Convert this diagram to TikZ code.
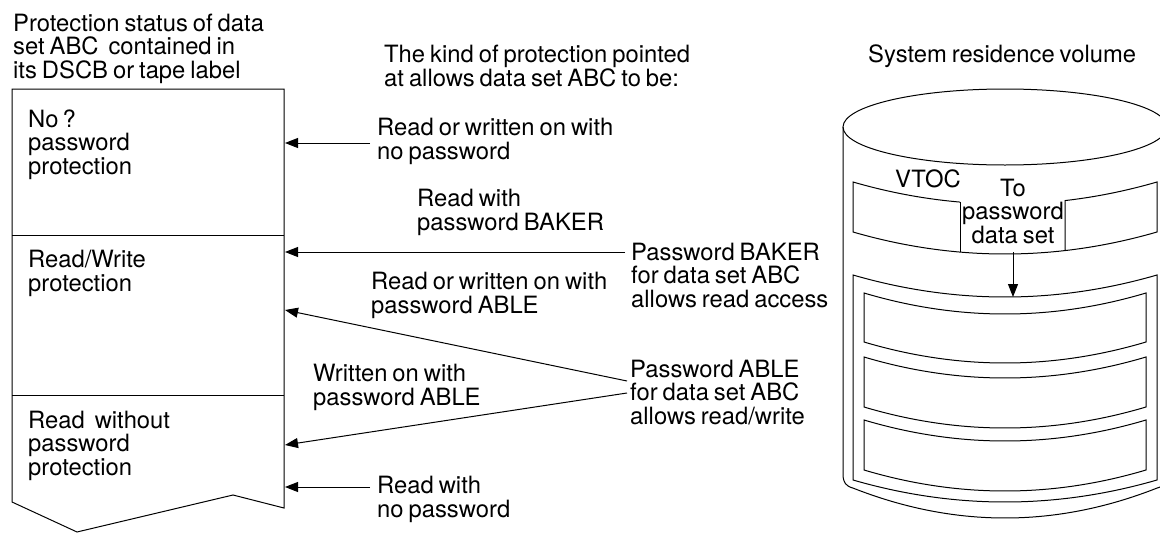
\documentclass[tikz,border=0pt]{standalone}
\usepackage{fontspec}
\setmainfont{TeX Gyre Heros}[WordSpace=0.75]
\usetikzlibrary{arrows.meta}
\begin{document}
\begin{tikzpicture}[x=1pt,y=-1pt,
  txt/.style={inner sep=0pt, anchor=base west, align=left, font=\fontsize{23.8}{23.5}\selectfont},
  ln/.style={line width=1pt},
  arr/.style={ln, -{Triangle[length=13pt,width=10pt]}},
]
\useasboundingbox (0,0) rectangle (1160,533);
\clip (0,0) rectangle (1160,533);

% ---------- left status box ----------
\draw[ln] (12,89) -- (284,89) -- (284,508) -- (233,495) -- (77,532) -- (12,502) -- cycle;
\draw[ln] (12,235) -- (284,235);
\draw[ln] (12,395) -- (284,395);

% ---------- texts (positioned at the baseline of their last line) ----------
\node[txt] (hdr) at (13,78) {Protection status of data\\set ABC\ \ contained in\\its DSCB or tape label};
\node[txt] (kind) at (384,86) {The kind of protection pointed\\at allows data set ABC to be:};
\node[txt] (srv) at (868,62) {System residence volume};
\node[txt] (s1) at (28,174) {No\,?\\password\\protection};
\node[txt] (s2) at (28,291) {Read/Write\\protection};
\node[txt] (s3) at (28,475) {Read\ \ without\\password\\protection};
\node[txt] (l1) at (377,159) {Read or written on with\\no password};
\node[txt] (l2) at (417,230) {Read with\\password BAKER};
\node[txt] (pb) at (631,307) {Password BAKER\\for data set ABC\\allows read access};
\node[txt] (l3) at (371,313) {Read or written on with\\password ABLE};
\node[txt] (pa) at (630,424) {Password ABLE\\for data set ABC\\allows read/write};
\node[txt] (l4) at (313,405) {Written on with\\password ABLE};
\node[txt] (l5) at (377,517) {Read with\\no password};
\node[txt] (vtoc) at (895,187) {VTOC};
\node[txt, anchor=base, align=center, font=\fontsize{23.8}{22.5}\selectfont] (topw) at (1013,243) {To\\password\\data set};

% ---------- arrow end points ----------
\coordinate (a1s) at (370,143); \coordinate (a1e) at (285,143);
\coordinate (a2s) at (625,252); \coordinate (a2e) at (285,252);
\coordinate (a3s) at (627,381); \coordinate (a3e) at (285,310);
\coordinate (a4s) at (627,393); \coordinate (a4e) at (285,445);
\coordinate (a5s) at (370,487); \coordinate (a5e) at (285,487);
\coordinate (a6s) at (1013,252); \coordinate (a6e) at (1013,297);

\draw[arr] (a1s) -- (a1e);
\draw[arr] (a2s) -- (a2e);
\draw[arr] (a3s) -- (a3e);
\draw[arr] (a4s) -- (a4e);
\draw[arr] (a5s) -- (a5e);
\draw[arr] (a6s) -- (a6e);

% ---------- cylinder ----------
\draw[ln] (1005,127) ellipse [x radius=162, y radius=38];
\draw[ln] (843,127) -- (843,474) .. controls (843,483) and (846,486) .. (853,488.1)
  -- plot[domain=853:1157, samples=50] (\x, {484+34*(1-((\x-1005)/162)*((\x-1005)/162))})
  .. controls (1164,486) and (1167,483) .. (1167,474) -- (1167,127);

% VTOC band
\draw[ln] plot[domain=960:853, samples=20] (\x, {182+22*(1-((\x-1005)/152)*((\x-1005)/152))})
  -- plot[domain=853:1157, samples=50] (\x, {232+22*(1-((\x-1005)/152)*((\x-1005)/152))})
  -- plot[domain=1157:1065, samples=20] (\x, {182+22*(1-((\x-1005)/152)*((\x-1005)/152))})
  -- (1065,250.6);
\draw[ln] (960,202.1) -- (960,252.1);

% data set frame
\draw[ln] plot[domain=853:1157, samples=50] (\x, {275+22*(1-((\x-1005)/152)*((\x-1005)/152))})
  -- plot[domain=1157:853, samples=50] (\x, {480+22*(1-((\x-1005)/152)*((\x-1005)/152))})
  -- cycle;

% records
\foreach \t/\b in {293/342, 357/407, 420/470}{
  \draw[ln] plot[domain=864:1146, samples=50] (\x, {\t+21*(1-((\x-1005)/141)*((\x-1005)/141))})
    -- plot[domain=1146:864, samples=50] (\x, {\b+21*(1-((\x-1005)/141)*((\x-1005)/141))})
    -- cycle;
}
\end{tikzpicture}
\end{document}
